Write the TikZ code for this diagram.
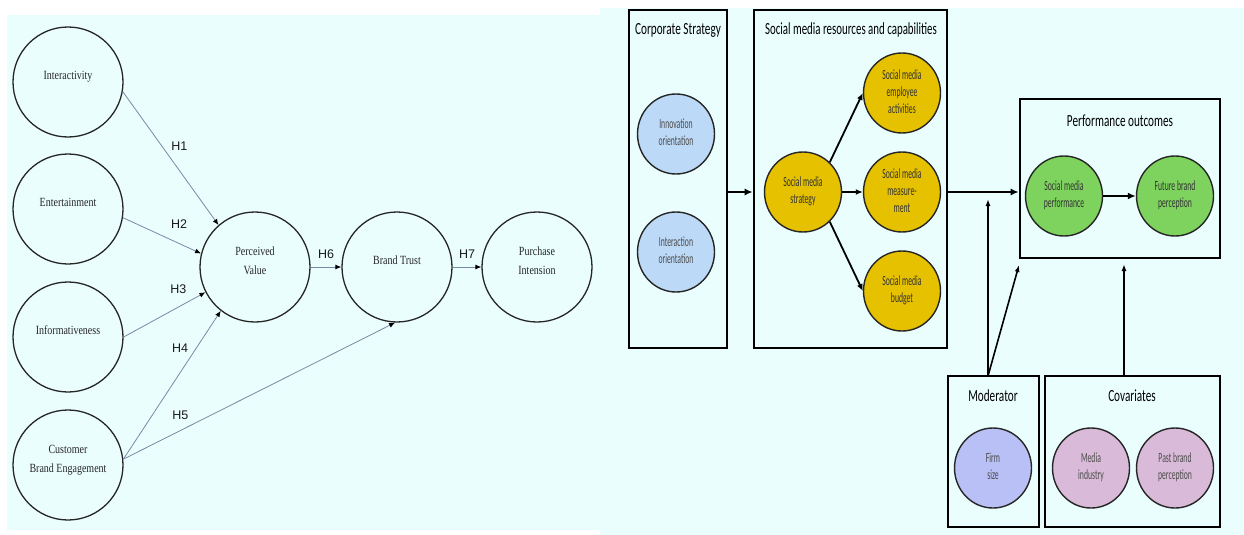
\documentclass[tikz,border=0pt]{standalone}
\usepackage{fontspec}
\usepackage{graphicx}
\setmainfont{Liberation Serif}
\newfontfamily\hfont{Liberation Sans}
\newfontfamily\cfont{Carlito}
\usetikzlibrary{shapes.geometric,arrows.meta}

\definecolor{bgcyan}{HTML}{EBFEFE}
\definecolor{linegray}{HTML}{7A88A6}
\definecolor{innoblue}{HTML}{BCD9F7}
\definecolor{smyellow}{HTML}{E5C100}
\definecolor{pogreen}{HTML}{7ED35F}
\definecolor{firmblue}{HTML}{B9C0F5}
\definecolor{covpink}{HTML}{D9BAD8}

\newcommand{\lt}[1]{\scalebox{0.8}[1]{\begin{tabular}{@{}c@{}}#1\end{tabular}}}
\newcommand{\narrow}[2]{\scalebox{#1}[1]{\begin{tabular}{@{}c@{}}#2\end{tabular}}}

\begin{document}
\begin{tikzpicture}[x=1pt,y=-1pt,
    latent/.style={circle,draw=black!85,line width=1.3pt,minimum size=110pt,inner sep=0pt},
    ltext/.style={yshift=6pt,inner sep=0pt,font=\fontsize{12.5}{19}\selectfont,text=black!85},
    hyp/.style={draw=linegray,line width=0.8pt,-{Latex[color=black,length=6pt,width=5pt]}},
    hlab/.style={font=\hfont\fontsize{12.5}{14}\selectfont,text=black!90,inner sep=1pt},
    panel/.style={draw=black,line width=2.6pt,inner sep=0pt},
    ptitle/.style={font=\cfont\fontsize{17}{20}\selectfont,inner sep=0pt},
    cons/.style={ellipse,draw=black!85,line width=1.4pt,minimum width=77pt,minimum height=80pt,
      inner sep=0pt,font=\cfont\fontsize{14}{17}\selectfont},
    flow/.style={line width=2.6pt,-{Latex[length=8pt,width=7pt]}},
    branch/.style={line width=1.8pt,-{Latex[length=7pt,width=6pt]}},
    modarr/.style={line width=1.6pt,-{Latex[length=7pt,width=5pt]}}]

  \useasboundingbox (0,0) rectangle (1244,535);
  \fill[white] (0,0) rectangle (1244,535);
  \fill[bgcyan] (7,15) rectangle (600,530);
  \fill[bgcyan] (600,8) rectangle (1244,535);

  % left model
  \draw
    (68,82) node[latent,label={[ltext]center:\lt{Interactivity}}] (iact) {}
    (68,209) node[latent,label={[ltext]center:\lt{Entertainment}}] (ent) {}
    (68,337) node[latent,label={[ltext]center:\lt{Informativeness}}] (info) {}
    (68,465) node[latent,label={[ltext]center:\lt{Customer\\Brand Engagement}}] (cbe) {}
    (255,267) node[latent,label={[ltext]center:\lt{Perceived\\Value}}] (pv) {}
    (397,267) node[latent,label={[ltext]center:\lt{Brand Trust}}] (bt) {}
    (537,267) node[latent,label={[ltext]center:\lt{Purchase\\Intension}}] (pi) {};
  \begin{scope}[hyp]
    \draw (iact.-10) to node[hlab,pos=0.41,right=8pt] {H1} (pv.131);
    \draw (ent.-9) to node[hlab,pos=0.72,above=14pt] {H2} (pv.166);
    \draw (info.0) to node[hlab,pos=0.67,above=12pt] {H3} (pv.207);
    \draw (cbe.6) to node[hlab,pos=0.75,left=7pt] {H4} (pv.232);
    \draw (cbe.6) to node[hlab,pos=0.21,above=9pt] {H5} (bt.268);
    \draw (pv) to node[hlab,above=7pt] {H6} (bt);
    \draw (bt) to node[hlab,above=7pt] {H7} (pi);
  \end{scope}

  % right framework
  \node[panel,minimum width=98pt,minimum height=338pt] (corp) at (678,179) {};
  \node[panel,minimum width=193pt,minimum height=338pt] (smr) at (850.5,179) {};
  \node[panel,minimum width=200pt,minimum height=159pt] (perf) at (1120,178.5) {};
  \node[panel,minimum width=91pt,minimum height=151pt] (mod) at (993.5,451.5) {};
  \node[panel,minimum width=175pt,minimum height=151pt] (cov) at (1132.5,451.5) {};

  \node[ptitle] (corpt) at (678,31) {\narrow{0.66}{Corporate Strategy}};
  \node[ptitle] (smrt) at (851,31) {\narrow{0.64}{Social media resources and capabilities}};
  \node[ptitle] (perft) at (1120,122) {\narrow{0.66}{Performance outcomes}};
  \node[ptitle] (modt) at (993,397) {\narrow{0.66}{Moderator}};
  \node[ptitle] (covt) at (1132,397) {\narrow{0.66}{Covariates}};

  \draw
    (676,134) node[cons,fill=innoblue,text=black!70] (innov) {\narrow{0.55}{Innovation\\orientation}}
    (676,252) node[cons,fill=innoblue,text=black!70] (inter) {\narrow{0.55}{Interaction\\orientation}}
    (803,192) node[cons,fill=smyellow,text=black!80] (sms) {\narrow{0.55}{Social media\\strategy}}
    (902,93) node[cons,fill=smyellow,text=black!80] (emp) {\narrow{0.55}{Social media\\employee\\activities}}
    (902,192) node[cons,fill=smyellow,text=black!80] (meas) {\narrow{0.55}{Social media\\measure-\\ment}}
    (902,291) node[cons,fill=smyellow,text=black!80] (budg) {\narrow{0.55}{Social media\\budget}}
    (1064,196) node[cons,fill=pogreen,text=black!80] (smp) {\narrow{0.55}{Social media\\performance}}
    (1175,196) node[cons,fill=pogreen,text=black!80] (fbp) {\narrow{0.55}{Future brand\\perception}}
    (993,468) node[cons,fill=firmblue,text=black!70] (firm) {\narrow{0.55}{Firm\\size}}
    (1091,468) node[cons,fill=covpink,text=black!70] (mind) {\narrow{0.55}{Media\\industry}}
    (1175,468) node[cons,fill=covpink,text=black!70] (pbp) {\narrow{0.55}{Past brand\\perception}};

  \coordinate (fork) at (988,376);
  \coordinate (modhit) at (988,199);
  \coordinate (perfhit) at (1019,265);
  \coordinate (covtop) at (1124,376);
  \coordinate (covhit) at (1124,264);

  \draw[flow] (corp.east |- sms) -- (smr.west |- sms);
  \draw[branch] (sms.48) -- (emp.west);
  \draw[branch] (sms) -- (meas);
  \draw[branch] (sms.-48) -- (budg.west);
  \draw[flow] (smr.east |- sms) -- (perf.west |- sms);
  \draw[flow] (smp) -- (fbp);
  \draw[modarr] (fork) -- (modhit);
  \draw[modarr] (fork) -- (perfhit);
  \draw[modarr] (covtop) -- (covhit);
\end{tikzpicture}
\end{document}
